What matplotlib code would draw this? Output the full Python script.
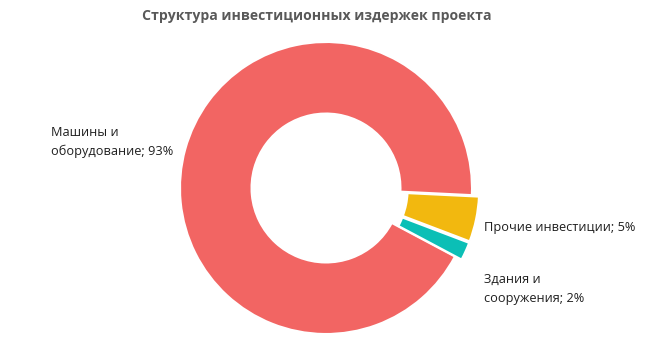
import matplotlib
matplotlib.use("Agg")
import matplotlib.pyplot as plt

categories = ["Машины и\nоборудование", "Прочие инвестиции", "Здания и\nсооружения"]
values = [93, 5, 2]
colors = ["#F26563", "#F2B80F", "#0BBFB6"]
explode = [0, 0.05, 0.05]
title = "Структура инвестиционных издержек проекта"

plt.rcParams['font.family'] = ['Open Sans', 'DejaVu Sans']

W, H = 669, 354
fig = plt.figure(figsize=(W / 100, H / 100), dpi=100)
cx, cy, r = 326, 188, 146
ax = fig.add_axes([(cx - r) / W, (H - cy - r) / H, 2 * r / W, 2 * r / H])
ax.pie(values, colors=colors, explode=explode, startangle=-28, counterclock=False,
       radius=1, wedgeprops=dict(width=0.49, edgecolor="white", linewidth=1.5))
ax.set_xlim(-1, 1)
ax.set_ylim(-1, 1)
ax.set_aspect("equal")
ax.axis("off")
for a in ax.patches:
    a.set_clip_on(False)

fig.text(317 / W, 1 - 16 / H, title, ha="center", va="center", fontsize=10.1,
         fontweight="bold", color="#595959")

label_pos = [(51, 142), (484, 228), (484, 289)]
for cat, v, (x, y) in zip(categories, values, label_pos):
    fig.text(x / W, 1 - y / H, f"{cat}; {v}%", ha="left", va="center",
             fontsize=9.2, color="#1f1f1f", linespacing=1.6)

fig.savefig("out.png", dpi=100, facecolor="white")
